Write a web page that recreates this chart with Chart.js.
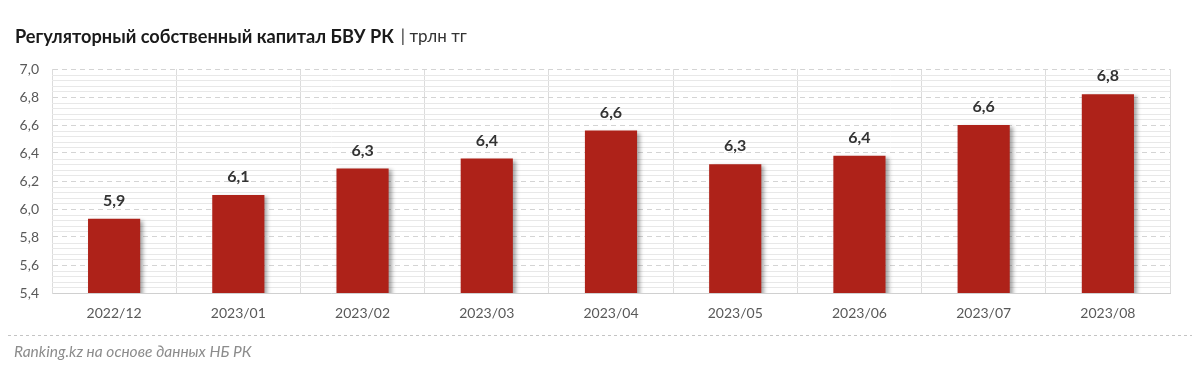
<!DOCTYPE html>
<html>
<head>
<meta charset="utf-8">
<script src="https://cdn.jsdelivr.net/npm/chart.js@4.4.0/dist/chart.umd.min.js"></script>
<style>
  html, body { margin: 0; padding: 0; background: #fff; }
  #wrap { width: 1200px; height: 373px; position: relative; }
</style>
</head>
<body>
<div id="wrap"><canvas id="c" width="1200" height="373"></canvas></div>
<script>
const categories = ['2022/12','2023/01','2023/02','2023/03','2023/04','2023/05','2023/06','2023/07','2023/08'];
const capital = [5.93, 6.10, 6.29, 6.36, 6.56, 6.32, 6.38, 6.60, 6.82];
const yMin = 5.4;
const yMax = 7.0;
const yStep = 0.2;
const minorStep = 0.04;
const titleMain = 'Регуляторный собственный капитал БВУ РК';
const titleUnit = '| трлн тг';
const sourceText = 'Ranking.kz на основе данных НБ РК';

const FONT = 'Lato, "Open Sans", sans-serif';
const fmt = v => v.toFixed(1).replace('.', ',');

const decor = {
  id: 'decor',
  beforeDatasetsDraw(chart) {
    const {ctx, chartArea, scales: {y}} = chart;
    ctx.save();
    ctx.strokeStyle = '#e8e8e8';
    ctx.lineWidth = 1;
    const n = Math.round((yMax - yMin) / minorStep);
    for (let i = 1; i < n; i++) {
      const v = yMin + i * minorStep;
      if (Math.abs((v - yMin) / yStep - Math.round((v - yMin) / yStep)) < 1e-6) continue;
      const py = Math.round(y.getPixelForValue(v)) + 0.5;
      ctx.beginPath();
      ctx.moveTo(chartArea.left, py);
      ctx.lineTo(chartArea.right, py);
      ctx.stroke();
    }
    ctx.restore();
  },
  beforeDatasetDraw(chart) {
    const ctx = chart.ctx;
    ctx.save();
    ctx.shadowColor = 'rgba(0,0,0,0.35)';
    ctx.shadowBlur = 4;
    ctx.shadowOffsetX = 3;
    ctx.shadowOffsetY = 2;
  },
  afterDatasetDraw(chart) {
    chart.ctx.restore();
  },
  afterDraw(chart) {
    const ctx = chart.ctx;
    ctx.save();
    // title
    ctx.textBaseline = 'middle';
    ctx.textAlign = 'left';
    ctx.fillStyle = '#1a1a1a';
    ctx.font = 'bold 18.2px ' + FONT;
    ctx.fillText(titleMain, 15, 37);
    const w = ctx.measureText(titleMain).width;
    ctx.font = '17px ' + FONT;
    ctx.fillStyle = '#333';
    ctx.fillText(titleUnit, 15 + w + 7, 37);
    // value labels
    const meta = chart.getDatasetMeta(0);
    ctx.font = 'bold 16px ' + FONT;
    ctx.fillStyle = '#333';
    ctx.textAlign = 'center';
    meta.data.forEach((bar, i) => {
      ctx.fillText(fmt(capital[i]), bar.x, bar.y - 18);
    });
    // separator
    ctx.strokeStyle = '#c4c4c4';
    ctx.lineWidth = 1;
    ctx.setLineDash([3, 3]);
    ctx.beginPath();
    ctx.moveTo(8, 335.5);
    ctx.lineTo(1192, 335.5);
    ctx.stroke();
    ctx.setLineDash([]);
    // source
    ctx.textAlign = 'left';
    ctx.font = 'italic 15.5px ' + FONT;
    ctx.fillStyle = '#8c8c8c';
    ctx.fillText(sourceText, 14, 352);
    ctx.restore();
  }
};

new Chart(document.getElementById('c'), {
  type: 'bar',
  data: {
    labels: categories,
    datasets: [{
      data: capital,
      backgroundColor: '#AE2219',
      borderWidth: 0,
      barPercentage: 0.42,
      categoryPercentage: 1.0
    }]
  },
  options: {
    responsive: false,
    animation: false,
    devicePixelRatio: 1,
    layout: { padding: { left: 0, right: 30, top: 69, bottom: 0 } },
    plugins: { legend: { display: false }, tooltip: { enabled: false }, title: { display: false } },
    scales: {
      x: {
        grid: { color: '#dcdcdc', lineWidth: 1, drawTicks: false, offset: true },
        border: { color: '#d0d0d0', width: 1 },
        ticks: { color: '#595959', font: { family: FONT, size: 14 }, padding: 12, maxRotation: 0 },
        afterFit(scale) { scale.height = 80; }
      },
      y: {
        min: yMin,
        max: yMax,
        grid: { color: '#d4d4d4', lineWidth: 1, drawTicks: false },
        border: { color: '#dcdcdc', dash: [5, 4], display: true },
        ticks: {
          stepSize: yStep,
          color: '#595959',
          font: { family: FONT, size: 14 },
          padding: 13,
          callback: v => fmt(v)
        },
        afterFit(scale) { scale.width = 52; }
      }
    }
  },
  plugins: [decor]
});
</script>
</body>
</html>
